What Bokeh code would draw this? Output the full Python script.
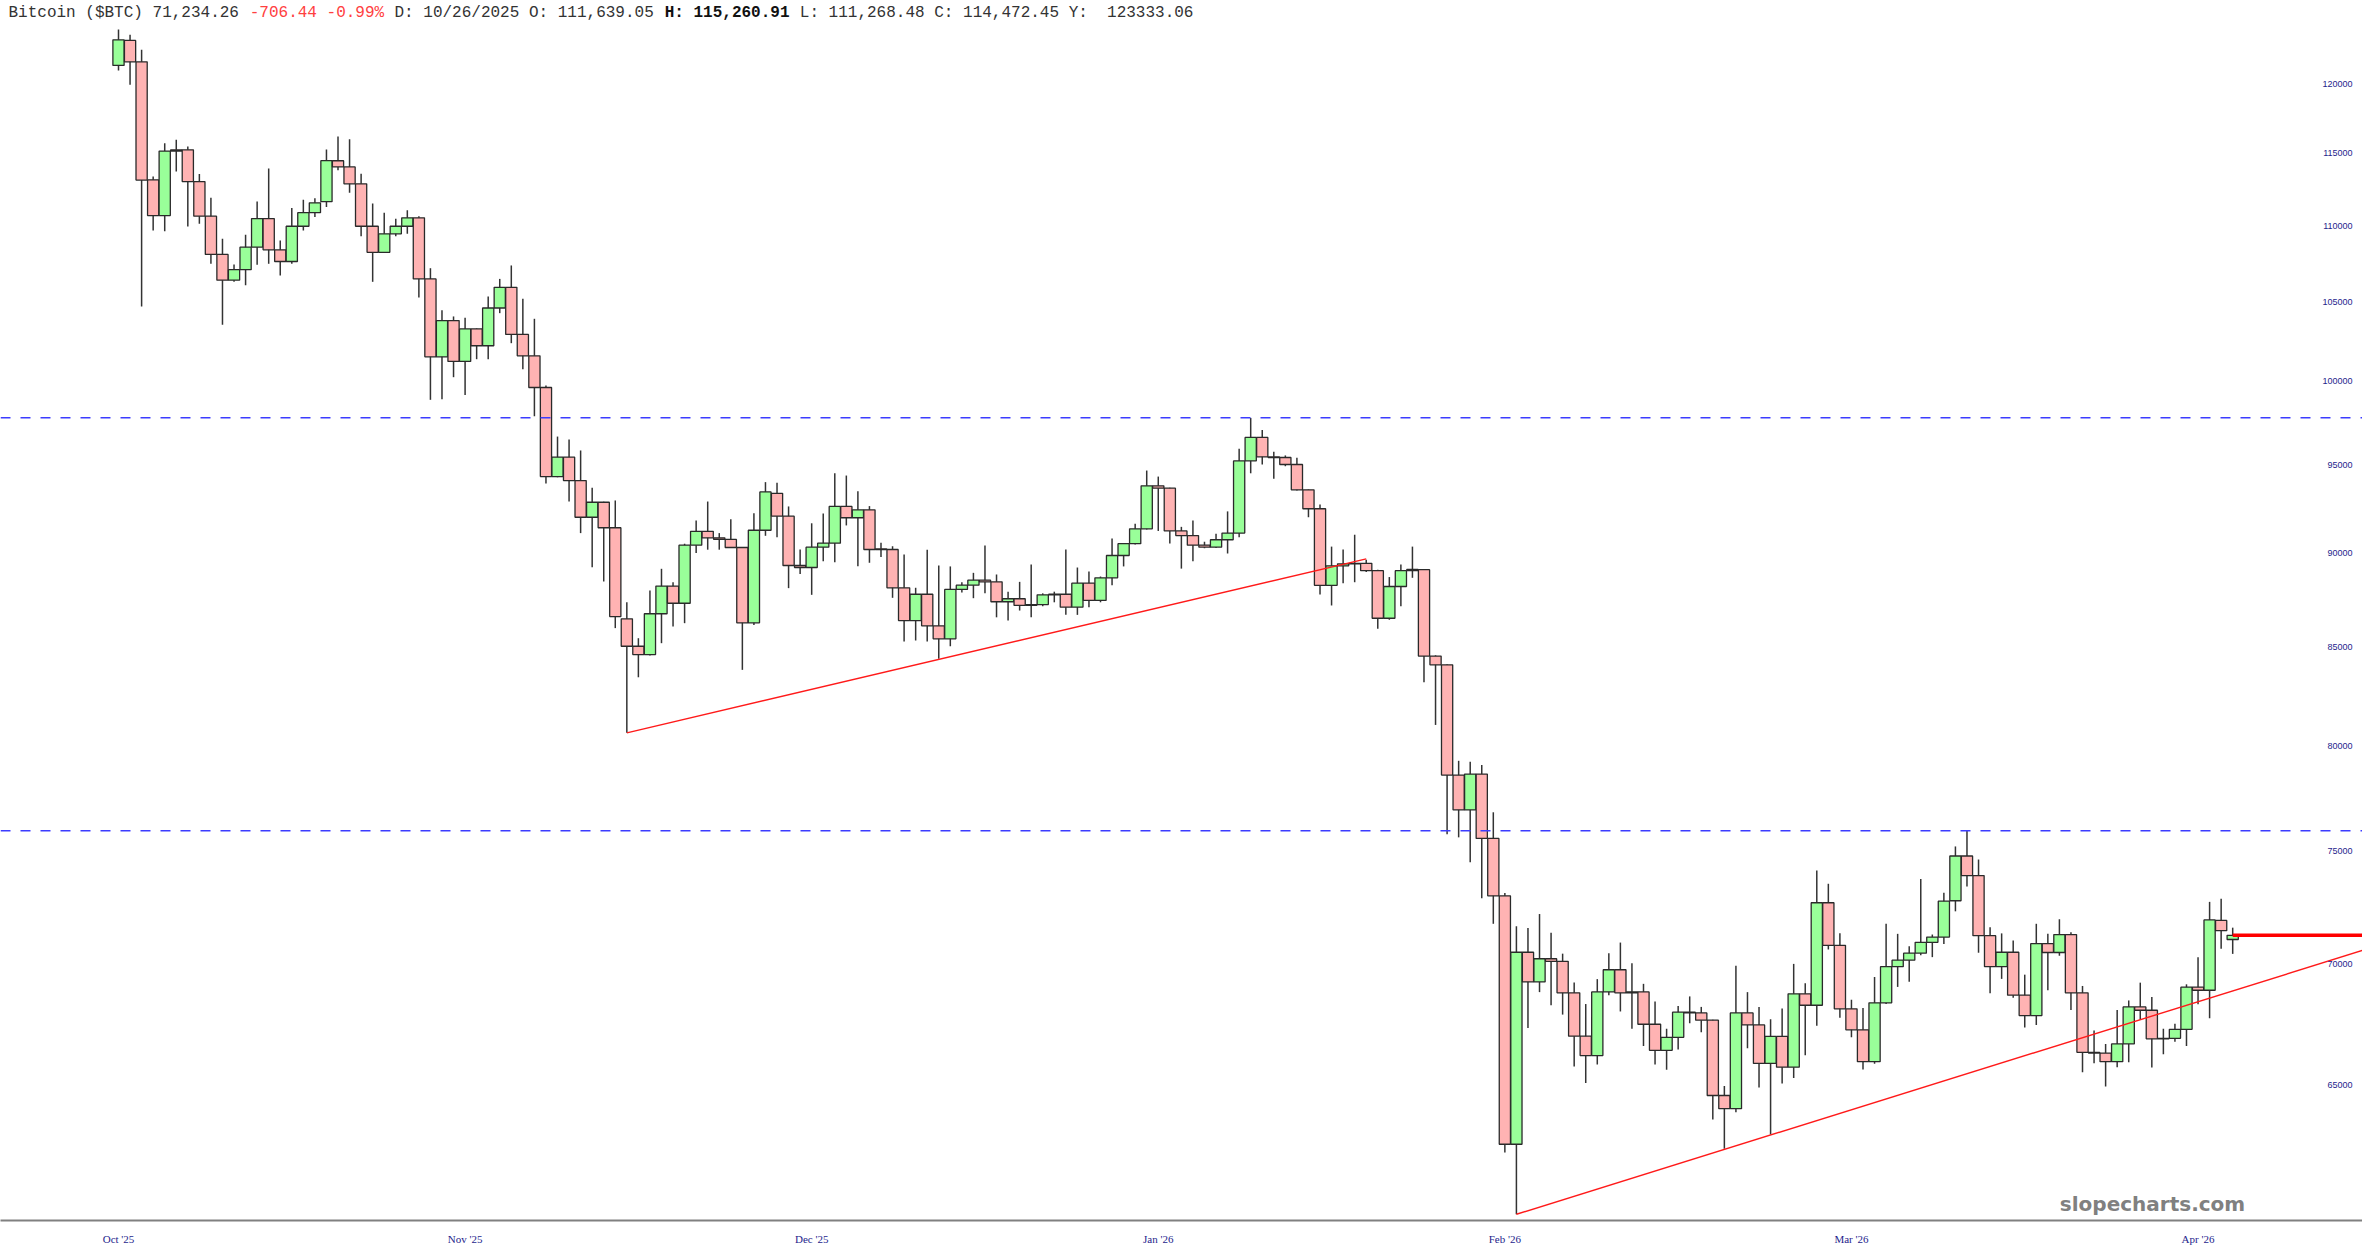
import numpy as np
import pandas as pd
from bokeh.plotting import figure
from bokeh.models import Range1d, FixedTicker, Label, Span, ColumnDataSource
from bokeh.core.properties import value
from bokeh.embed import file_html
from bokeh.resources import INLINE

# ---------------- data ----------------
ticker_name = "Bitcoin ($BTC)"
start_date = "2025-10-08"

open_ = [121350, 123220, 121620, 113140, 110690, 115240, 115240, 113020, 110650, 108090,
         106400, 107080, 108570, 110490, 108390, 107620, 109970, 110890, 111639.05, 114470,
         114040, 112860, 109970, 108230, 109460, 109970, 110540, 106480, 101520, 103800,
         101230, 103270, 102210, 104600, 105930, 102920, 101580, 99630, 94340, 95470,
         94110, 92020, 92870, 91430, 86470, 85030, 84600, 86740, 88220, 87300,
         90460, 91230, 90870, 90780, 90330, 86260, 91290, 93380, 92080, 89340,
         89230, 90350, 90570, 92630, 91990, 92440, 90260, 90220, 88130, 86380,
         87780, 86100, 85420, 88040, 88270, 88540, 88450, 87380, 87540, 87180,
         87230, 87750, 87780, 87090, 88380, 87450, 88670, 89890, 90540, 91370,
         93810, 93670, 91250, 90990, 90460, 90350, 90760, 91130, 95250, 96630,
         95490, 95450, 95040, 93580, 92500, 88260, 89320, 89430, 89460, 89060,
         86500, 88200, 89060, 89110, 84520, 84070, 78580, 76920, 78630, 75590,
         72980, 62680, 70500, 69230, 70220, 70110, 68770, 66970, 66180, 68810,
         69750, 68770, 68810, 67460, 66390, 66920, 67960, 67930, 67630, 64580,
         64060, 67930, 67430, 65860, 66960, 65710, 68730, 68250, 72670, 70800,
         68100, 67230, 65930, 68350, 69880, 70160, 70460, 70930, 71160, 72760,
         74780, 73890, 71220, 69880, 70500, 68670, 67820, 70870, 70490, 71270,
         68770, 66310, 66280, 65930, 66650, 68180, 68040, 66860, 66880, 67250,
         69010, 68880, 71890, 71054]
high = [124050, 123650, 122530, 113370, 115710, 115950, 115480, 113540, 111900, 109130,
        107420, 109390, 111650, 113930, 109010, 111200, 111760, 111870, 115260.91, 116180,
        115990, 113560, 111510, 110890, 110470, 111050, 110650, 107180, 104450, 104060,
        103980, 103300, 105340, 106480, 107360, 105190, 103910, 99750, 96680, 96510,
        95860, 93700, 92900, 92970, 87350, 85450, 87980, 89160, 88430, 90540,
        91840, 92910, 91130, 91910, 90330, 92250, 94020, 93980, 92630, 90220,
        91680, 92230, 94530, 94400, 93500, 92650, 90590, 90400, 89950, 88130,
        90200, 89340, 89290, 88430, 88940, 90440, 88850, 87910, 88450, 89400,
        87830, 87920, 90220, 89230, 89010, 88740, 90830, 90570, 91650, 94690,
        94340, 93700, 91480, 91840, 90650, 91100, 92350, 95960, 97790, 97070,
        95780, 95570, 95430, 93600, 92740, 90380, 90220, 91040, 89660, 89110,
        88710, 89390, 90380, 89150, 84560, 84100, 79270, 79220, 79070, 76810,
        73110, 71630, 71560, 72170, 71350, 70440, 69210, 68300, 69350, 70460,
        70920, 70030, 69150, 68410, 67270, 68220, 68620, 68180, 67650, 64960,
        69920, 68800, 68180, 67670, 68110, 70000, 69180, 74120, 73520, 71330,
        68480, 68130, 69440, 71740, 71300, 70760, 73740, 71270, 73120, 75220,
        75940, 74620, 71590, 71320, 71010, 69540, 71740, 71300, 71940, 71370,
        69060, 67200, 66650, 68050, 68450, 69200, 68590, 67270, 67480, 69130,
        70290, 72710, 72850, 71570]
low = [120980, 119930, 104690, 109690, 109640, 113720, 109960, 110140, 107470, 103530,
       106290, 106070, 107400, 107470, 106700, 107470, 109690, 110590, 111268.48, 113800,
       112250, 109300, 106290, 108190, 109300, 109460, 105270, 98880, 98920, 100260,
       99180, 101370, 101370, 104270, 102370, 100750, 97890, 93940, 94300, 92910,
       91130, 89250, 88470, 85980, 80640, 83430, 84550, 85190, 86070, 86240,
       90020, 90210, 90210, 90330, 83810, 86150, 90980, 90900, 88110, 88870,
       87750, 89580, 89520, 91560, 89300, 89490, 89800, 87590, 85280, 85330,
       85280, 84380, 85030, 87870, 87570, 87830, 86550, 86380, 86910, 86550,
       87140, 87350, 86680, 86680, 87090, 87350, 88260, 89290, 90500, 91330,
       91250, 90550, 89170, 89580, 90290, 90300, 90000, 90900, 94530, 95040,
       94210, 94940, 93540, 92020, 87770, 87180, 88380, 88430, 88990, 85950,
       86420, 87140, 88670, 83180, 81030, 75780, 75640, 74490, 72870, 71740,
       62360, 60050, 67310, 68800, 68250, 67860, 65740, 65080, 65820, 68670,
       67990, 67270, 66570, 65820, 65610, 66420, 67500, 67130, 63640, 62510,
       63920, 66480, 64900, 63060, 65060, 65280, 66190, 67400, 70620, 67730,
       66930, 65620, 65850, 68300, 69020, 69240, 70370, 70290, 70860, 72290,
       73400, 70480, 68750, 69360, 68560, 67330, 67430, 68880, 70350, 68050,
       65510, 65870, 64940, 65710, 65910, 67650, 65700, 66230, 66740, 66570,
       68290, 67710, 70650, 70430]
close = [123270, 121620, 113120, 110690, 115150, 115150, 113020, 110650, 108090, 106400,
         107080, 108570, 110490, 108390, 107620, 109970, 110890, 111560, 114472.45, 114040,
         112860, 109970, 108230, 109460, 109970, 110540, 106480, 101520, 103800, 101230,
         103270, 102210, 104600, 105930, 102920, 101580, 99630, 94340, 95470, 94110,
         92020, 92870, 91430, 86590, 85030, 84600, 86740, 88220, 87300, 90460,
         91230, 90870, 90780, 90330, 86260, 91290, 93460, 92080, 89340, 89230,
         90350, 90570, 92630, 91990, 92440, 90220, 90220, 88130, 86380, 87780,
         86100, 85420, 88040, 88270, 88540, 88450, 87380, 87540, 87180, 87230,
         87750, 87780, 87090, 88380, 87450, 88670, 89890, 90540, 91370, 93810,
         93670, 91250, 90990, 90460, 90350, 90760, 91130, 95250, 96630, 95490,
         95450, 95040, 93580, 92500, 88260, 89320, 89430, 89460, 89060, 86500,
         88200, 89060, 89130, 84520, 84070, 78580, 76920, 78630, 75590, 72980,
         62680, 70500, 69230, 70220, 70110, 68770, 66970, 66180, 68810, 69750,
         68770, 68810, 67460, 66390, 66920, 67960, 67930, 67630, 64580, 64060,
         67930, 67430, 65860, 66960, 65710, 68730, 68250, 72670, 70800, 68100,
         67230, 65930, 68350, 69880, 70160, 70460, 70930, 71160, 72740, 74780,
         73890, 71220, 69880, 70500, 68670, 67820, 70870, 70490, 71270, 68770,
         66310, 66280, 65930, 66650, 68180, 68040, 66860, 66880, 67250, 69010,
         68880, 71910, 71440, 71234.26]

tick_bars = [0, 30, 60, 90, 120, 150, 180]
tick_labels = ["Oct '25", "Nov '25", "Dec '25", "Jan '26", "Feb '26", "Mar '26", "Apr '26"]
price_ticks = [65000, 70000, 75000, 80000, 85000, 90000, 95000, 100000, 105000, 110000, 115000, 120000]
price_tick_labels = [str(v) for v in price_ticks]

resistance_levels = [97800, 75950]
trend1_bars = [44, 108]
trend1_prices = [80640, 89706]
trend2_bars = [121, 194.3]
trend2_prices = [60050, 70590]

last_price = 71234.26
change_abs = -706.44
change_pct = -0.99
hover_bar = 18
year_high = "123333.06"

# ---------------- layout ----------------
W, H = 2362, 1260
PITCH = 11.553          # pixels per bar
X_FIRST = 118           # pixel of first bar
X0 = (0 - X_FIRST) / PITCH
X1 = (W - X_FIRST) / PITCH
Y0, Y1 = 59821, 126272
px_per_unit = W / (X1 - X0)

GREEN = "#99ff99"
PINK = "#ffb3b3"
NAVY = "#1e1e8c"

n = len(close)
dates = pd.date_range(start_date, periods=n, freq="D")
o = np.array(open_, dtype=float)
c = np.array(close, dtype=float)
src = ColumnDataSource(dict(
    x=np.arange(n),
    top=np.maximum(o, c),
    bottom=np.minimum(o, c),
    high=np.array(high, dtype=float),
    low=np.array(low, dtype=float),
    color=np.where(c >= o, GREEN, PINK),
))

p = figure(width=W, height=H, x_range=Range1d(X0, X1), y_range=Range1d(Y0, Y1),
           y_axis_type="log", y_axis_location=None, output_backend="svg",
           toolbar_location=None, min_border_left=0, min_border_right=0,
           min_border_top=0, min_border_bottom=40)
p.grid.visible = False
p.outline_line_color = None
p.background_fill_color = "white"
p.border_fill_color = "white"

# x axis
p.xaxis.ticker = FixedTicker(ticks=tick_bars)
p.xaxis.major_label_overrides = {b: l for b, l in zip(tick_bars, tick_labels)}
p.xaxis.major_tick_line_color = None
p.xaxis.minor_tick_line_color = None
p.xaxis.major_tick_out = 0
p.xaxis.major_tick_in = 0
p.xaxis.axis_line_color = "#808080"
p.xaxis.axis_line_width = 2
p.xaxis.major_label_text_font = "Liberation Serif"
p.xaxis.major_label_text_font_size = "11px"
p.xaxis.major_label_text_color = NAVY
p.xaxis.major_label_standoff = 12

# candles
p.segment(x0="x", y0="low", x1="x", y1="high", source=src, line_color="#333333", line_width=1.5)
p.vbar(x="x", width=0.97, top="top", bottom="bottom", fill_color="color",
       line_color="#2a2a2a", line_width=1.3, source=src)

# horizontal dashed levels
for lvl in resistance_levels:
    p.add_layout(Span(location=lvl, dimension="width", line_color="#3c3cff",
                      line_dash="10 10", line_width=1.5))

# trend lines
p.line(trend1_bars, trend1_prices, line_color="#ff1a1a", line_width=1.4)
p.line(trend2_bars, trend2_prices, line_color="#ff1a1a", line_width=1.4)
p.line([n - 1, X1 + 1], [last_price, last_price], line_color="#ff0000", line_width=3.5)

# price labels (inside plot, right)
p.text(x=[(2352 - X_FIRST) / PITCH] * len(price_ticks), y=price_ticks, text=price_tick_labels,
       text_align="right", text_baseline="middle", text_font=value("Liberation Sans"),
       text_font_size=value("9px"), text_color=NAVY)

# header
hd = dates[hover_bar].strftime("%m/%d/%Y")
segments = [
    (f"{ticker_name} {last_price:,.2f} ", "#333333", "normal"),
    (f"{change_abs:,.2f} {change_pct:.2f}% ", "#ff4040", "normal"),
    (f"D: {hd} O: {open_[hover_bar]:,.2f} ", "#333333", "normal"),
    (f"H: {high[hover_bar]:,.2f} ", "#111111", "bold"),
    (f"L: {low[hover_bar]:,.2f} C: {close[hover_bar]:,.2f} Y:\u00a0 {year_high}", "#333333", "normal"),
]
header_y = 125347
char_w = 9.65
k = 0
for txt, col, style in segments:
    p.add_layout(Label(x=X0 + (8 + k * char_w) / px_per_unit, y=header_y, text=txt,
                       text_font="Liberation Mono", text_font_size="16px", text_color=col,
                       text_font_style=style, text_baseline="middle", text_align="left"))
    k += len(txt)

# watermark
p.add_layout(Label(x=(2152 - X_FIRST) / PITCH, y=60444, text="slopecharts.com",
                   text_font="DejaVu Sans", text_font_size="20px", text_font_style="bold",
                   text_color="#808080", text_align="center", text_baseline="middle"))

open("out.html", "w").write(file_html(p, INLINE))
